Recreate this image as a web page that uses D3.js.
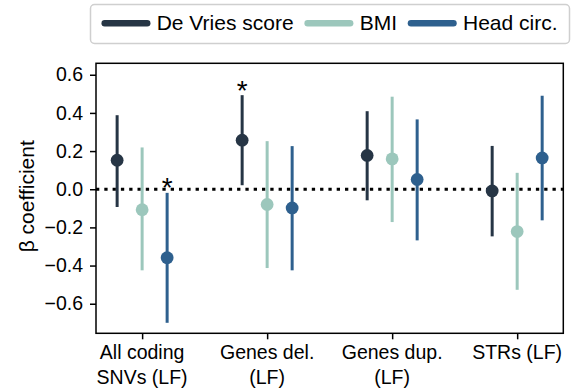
<!DOCTYPE html>
<html>
<head>
<meta charset="utf-8">
<script src="https://cdn.jsdelivr.net/npm/d3@7"></script>
<style>
  html, body { margin: 0; padding: 0; background: #fff; }
  svg { display: block; font-family: "Liberation Sans", Arial, sans-serif; }
</style>
</head>
<body>
<svg id="chart" width="575" height="388"></svg>
<script>
// ---- data ----
const categories = ["All coding\nSNVs (LF)", "Genes del.\n(LF)", "Genes dup.\n(LF)", "STRs (LF)"];
const seriesNames = ["De Vries score", "BMI", "Head circ."];
const seriesColors = ["#263545", "#9cc7bc", "#2e608e"];

const deVriesMean = [0.152, 0.257, 0.177, -0.009];
const deVriesLow  = [-0.093, 0.021, -0.058, -0.247];
const deVriesHigh = [0.388, 0.493, 0.409, 0.227];
const deVriesSig  = [false, true, false, false];

const bmiMean = [-0.107, -0.080, 0.159, -0.222];
const bmiLow  = [-0.425, -0.413, -0.172, -0.527];
const bmiHigh = [0.219, 0.252, 0.485, 0.086];
const bmiSig  = [false, false, false, false];

const headMean = [-0.359, -0.098, 0.051, 0.164];
const headLow  = [-0.700, -0.425, -0.268, -0.163];
const headHigh = [-0.019, 0.226, 0.366, 0.490];
const headSig  = [true, false, false, false];

const yTicks = [-0.6, -0.4, -0.2, 0.0, 0.2, 0.4, 0.6];

const series = [
  {name: seriesNames[0], color: seriesColors[0], mean: deVriesMean, lo: deVriesLow, hi: deVriesHigh, sig: deVriesSig},
  {name: seriesNames[1], color: seriesColors[1], mean: bmiMean, lo: bmiLow, hi: bmiHigh, sig: bmiSig},
  {name: seriesNames[2], color: seriesColors[2], mean: headMean, lo: headLow, hi: headHigh, sig: headSig}
];

// ---- layout ----
const svg = d3.select("#chart");
const plot = {left: 96, right: 563.3, top: 63.3, bottom: 333.3};

const x = d3.scalePoint().domain(categories).range([plot.left, plot.right]).padding(0.369);
const dodge = d3.scalePoint().domain(seriesNames).range([-25, 25]);
const y = d3.scaleLinear().domain([-0.755, 0.66]).range([plot.bottom, plot.top]);

// zero line
svg.append("line")
  .attr("x1", plot.left).attr("x2", plot.right)
  .attr("y1", y(0)).attr("y2", y(0))
  .attr("stroke", "#000").attr("stroke-width", 3)
  .attr("stroke-dasharray", "3.3,5");

// series
series.forEach(s => {
  const g = svg.append("g");
  categories.forEach((c, i) => {
    const cx = x(c) + dodge(s.name);
    g.append("line")
      .attr("x1", cx).attr("x2", cx)
      .attr("y1", y(s.lo[i])).attr("y2", y(s.hi[i]))
      .attr("stroke", s.color).attr("stroke-width", 3);
  });
  categories.forEach((c, i) => {
    const cx = x(c) + dodge(s.name);
    g.append("circle")
      .attr("cx", cx).attr("cy", y(s.mean[i]))
      .attr("r", 6.4).attr("fill", s.color);
  });
  categories.forEach((c, i) => {
    if (!s.sig[i]) return;
    const cx = x(c) + dodge(s.name);
    g.append("text")
      .attr("x", cx).attr("y", y(s.hi[i]) - 12 + 16.4)
      .attr("text-anchor", "middle")
      .attr("font-size", 28).attr("fill", "#000")
      .text("*");
  });
});

// frame
svg.append("rect")
  .attr("x", plot.left).attr("y", plot.top)
  .attr("width", plot.right - plot.left).attr("height", plot.bottom - plot.top)
  .attr("fill", "none").attr("stroke", "#000").attr("stroke-width", 1.5);

// y axis
const yAxis = d3.axisLeft(y).tickValues(yTicks).tickSize(6).tickPadding(7)
  .tickFormat(d => d3.format(".1f")(d).replace("-", "\u2212"));
const ya = svg.append("g").attr("transform", `translate(${plot.left},0)`).call(yAxis);
ya.select(".domain").remove();
ya.selectAll(".tick line").attr("stroke", "#000").attr("stroke-width", 1.5);
ya.selectAll(".tick text").attr("font-size", 19.5).attr("fill", "#000")
  .attr("font-family", "Liberation Sans, Arial, sans-serif");

// x axis
const xAxis = d3.axisBottom(x).tickSize(6).tickFormat("");
const xa = svg.append("g").attr("transform", `translate(0,${plot.bottom})`).call(xAxis);
xa.select(".domain").remove();
xa.selectAll(".tick line").attr("stroke", "#000").attr("stroke-width", 1.5);
categories.forEach(c => {
  const lines = c.split("\n");
  const t = svg.append("text")
    .attr("text-anchor", "middle")
    .attr("font-size", 19.5).attr("fill", "#000");
  lines.forEach((ln, k) => {
    t.append("tspan").attr("x", x(c)).attr("y", 359.3 + k * 24.7).text(ln);
  });
});

// y label
svg.append("text")
  .attr("transform", `translate(33.5,${(plot.top + plot.bottom) / 2 - 2}) rotate(-90)`)
  .attr("text-anchor", "middle")
  .attr("font-size", 21).attr("fill", "#000")
  .text("\u03b2 coefficient");

// legend
const leg = svg.append("g");
leg.append("rect")
  .attr("x", 90.5).attr("y", 4.5).attr("width", 479).attr("height", 39)
  .attr("rx", 4).attr("fill", "#fff").attr("stroke", "#cfcfcf").attr("stroke-width", 1.5);
let lx = 101.7;
series.forEach(s => {
  leg.append("line")
    .attr("x1", lx + 3).attr("x2", lx + 45.5)
    .attr("y1", 23.3).attr("y2", 23.3)
    .attr("stroke", s.color).attr("stroke-width", 6.5).attr("stroke-linecap", "round");
  const t = leg.append("text")
    .attr("x", lx + 55).attr("y", 30)
    .attr("font-size", 21).attr("fill", "#000")
    .text(s.name);
  lx = lx + 55 + t.node().getComputedTextLength() + 11;
});
</script>
</body>
</html>
